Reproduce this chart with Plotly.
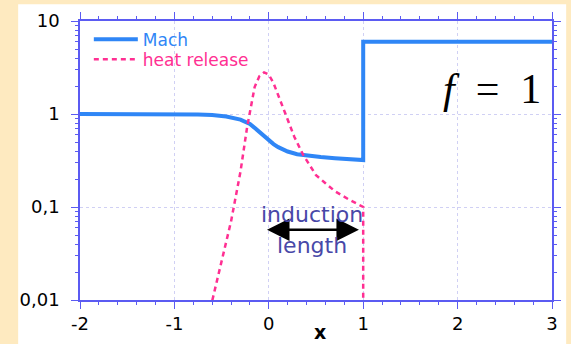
import numpy as np
import plotly.graph_objects as go

# Mach number profile along x (jumps at the shock, x = 1)
mach_x = [-2.0, -1.5, -1.0, -0.75, -0.6, -0.45, -0.3, -0.2, -0.15, -0.1, -0.05,
          0.0, 0.05, 0.1, 0.15, 0.2, 0.3, 0.4, 0.55, 0.7, 0.85, 1.0, 1.0, 3.0]
mach_y = [1.0, 1.0, 1.0, 0.99, 0.975, 0.94, 0.87, 0.78, 0.71, 0.64, 0.575,
          0.52, 0.475, 0.44, 0.415, 0.395, 0.37, 0.357, 0.345, 0.335, 0.327, 0.32, 6.0, 6.0]

# Heat release profile
heat_x = [-0.62, -0.5, -0.4, -0.3, -0.23, -0.15, -0.1, -0.05, 0.0, 0.05, 0.1,
          0.18, 0.27, 0.36, 0.5, 0.6, 0.7, 0.85, 0.95, 1.0, 1.0]
heat_y = [0.008, 0.026, 0.07, 0.24, 0.72, 1.95, 2.55, 2.8, 2.65, 2.15, 1.6,
          0.97, 0.57, 0.37, 0.22, 0.18, 0.148, 0.12, 0.106, 0.1, 0.001]

x_ticks = [-2, -1, 0, 1, 2, 3]
x_tick_text = ["-2", "-1", "0", "1", "2", "3"]
y_ticks = [0.01, 0.1, 1, 10]
y_tick_text = ["0,01", "0,1", "1", "10"]
y_minor = [m * 10.0 ** e for e in (-2, -1, 0) for m in range(2, 10)]

# induction length arrow span and label
ind_start, ind_end, ind_level = -0.035, 0.955, 0.057

MACH_C = "#2F86F6"
HEAT_C = "#FF2F92"
AXIS_C = "#5B5BF2"
GRID_C = "#D0D0F4"
LABEL_C = "#4848A8"
FONT = "DejaVu Sans, Verdana, sans-serif"

fig = go.Figure()
fig.add_trace(go.Scatter(
    x=mach_x, y=mach_y, mode="lines", legend="legend",
    name=f"<span style='color:{MACH_C}'>Mach</span>",
    line=dict(color=MACH_C, width=4),
))
fig.add_trace(go.Scatter(
    x=heat_x, y=heat_y, mode="lines", legend="legend2",
    name=f"<span style='color:{HEAT_C}'>heat release</span>",
    line=dict(color=HEAT_C, width=2.5, dash="5px,4px"),
))

axis_common = dict(
    showline=True, linecolor=AXIS_C, linewidth=1.5, mirror="ticks",
    ticks="outside", ticklen=7, tickwidth=1.2, tickcolor=AXIS_C,
    showgrid=True, gridcolor=GRID_C, griddash="dot", gridwidth=1,
    zeroline=False,
    tickfont=dict(family=FONT, size=18, color="black"),
)

fig.update_xaxes(
    range=[-2, 3], tickmode="array", tickvals=x_ticks, ticktext=x_tick_text,
    minor=dict(ticks="outside", ticklen=3, tickcolor=AXIS_C, dtick=0.2, showgrid=False),
    **axis_common,
)
fig.update_yaxes(
    type="log", range=[-2, 1], tickmode="array", tickvals=y_ticks, ticktext=y_tick_text,
    ticklabelstandoff=8,
    minor=dict(ticks="outside", ticklen=3, tickcolor=AXIS_C,
               tickmode="array", tickvals=y_minor, showgrid=False),
    **axis_common,
)

# double-headed arrow marking the induction length
fig.add_annotation(
    x=ind_end, y=np.log10(ind_level), ax=ind_start, ay=np.log10(ind_level),
    xref="x", yref="y", axref="x", ayref="y", text="",
    showarrow=True, arrowside="end+start", arrowhead=2, arrowsize=1.8,
    arrowwidth=2.5, arrowcolor="black", standoff=0, startstandoff=0,
)
fig.add_annotation(
    x=(ind_start + ind_end) / 2, y=-1.085, xref="x", yref="y",
    text="induction", showarrow=False,
    font=dict(family=FONT, size=22, color=LABEL_C),
)
fig.add_annotation(
    x=(ind_start + ind_end) / 2, y=-1.415, xref="x", yref="y",
    text="length", showarrow=False,
    font=dict(family=FONT, size=22, color=LABEL_C),
)
fig.add_annotation(
    x=0.981, y=0.755, xref="paper", yref="paper", xanchor="right", yanchor="middle",
    text="<i>f</i>\u00a0\u00a0=\u00a0\u00a01", showarrow=False,
    font=dict(family="Liberation Serif, DejaVu Serif, serif", size=42, color="black"),
)
fig.add_annotation(
    x=0.509, y=-0.113, xref="paper", yref="paper", xanchor="center", yanchor="middle",
    text="<b>x</b>", showarrow=False,
    font=dict(family=FONT, size=19, color="black"),
)

# white panel over the cream page background
fig.add_shape(
    type="rect", xref="paper", yref="paper", layer="below",
    x0=-0.131, x1=1.03, y0=-0.16, y1=1.0603,
    fillcolor="white", line=dict(width=0),
)

legend_common = dict(
    xanchor="left", yanchor="middle",
    bgcolor="rgba(0,0,0,0)", borderwidth=0,
    font=dict(family=FONT, size=17),
    itemwidth=44,
)

fig.update_layout(
    width=571, height=344,
    margin=dict(l=80, r=10, t=21, b=41),
    paper_bgcolor="#FEEAC0", plot_bgcolor="white",
    showlegend=True,
    legend=dict(x=0.0187, y=0.9326, **legend_common),
    legend2=dict(x=0.0187, y=0.8617, **legend_common),
)

fig.write_html("out.html")
